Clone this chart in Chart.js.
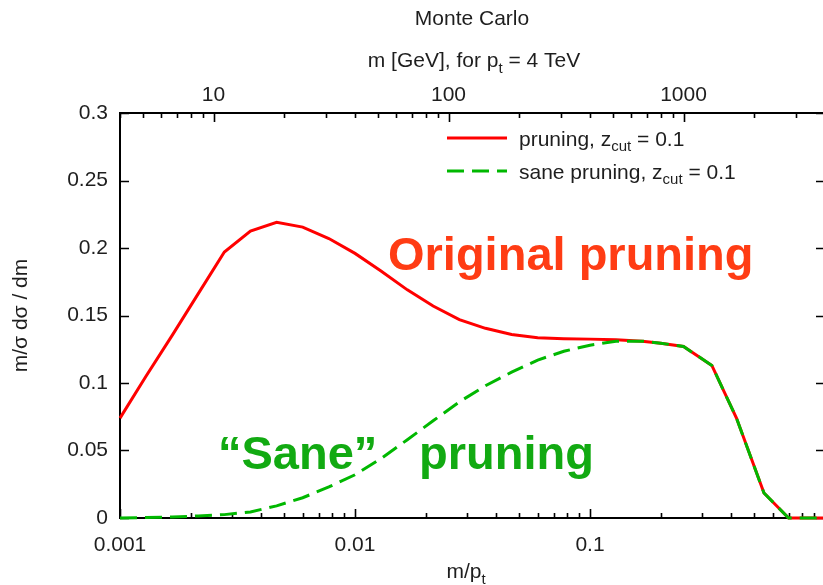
<!DOCTYPE html>
<html><head><meta charset="utf-8">
<script src="https://cdn.jsdelivr.net/npm/chart.js@4.4.1/dist/chart.umd.min.js"></script>
<style>
html,body{margin:0;padding:0;background:#fff;overflow:hidden;}
#wrap{position:relative;width:826px;height:585px;}
canvas{display:block;}
</style></head><body>
<div id="wrap"><canvas id="c" width="826" height="585"></canvas></div>
<script>
// ---- data ----
const mOverPt = [0.001, 0.00129, 0.00167, 0.00215, 0.00278, 0.00359, 0.00464, 0.00599, 0.00774, 0.01,
                 0.0129, 0.0167, 0.0215, 0.0278, 0.0359, 0.0464, 0.0599, 0.0774, 0.1,
                 0.129, 0.167, 0.2, 0.25, 0.33, 0.42, 0.55, 0.7, 0.8, 0.9, 1.0];
const pruning = [0.074, 0.105, 0.1355, 0.166, 0.197, 0.2125, 0.219, 0.2155, 0.207, 0.196,
                 0.183, 0.169, 0.157, 0.147, 0.1405, 0.136, 0.1335, 0.1328, 0.1325,
                 0.132, 0.131, 0.1295, 0.127, 0.113, 0.074, 0.0185, 0, 0, 0, 0];
const sanePruning = [0, 0.0003, 0.0008, 0.0015, 0.0025, 0.0045, 0.009, 0.015, 0.023, 0.032,
                 0.044, 0.058, 0.072, 0.086, 0.098, 0.108, 0.117, 0.1235, 0.128,
                 0.131, 0.131, 0.1295, 0.127, 0.113, 0.074, 0.0185, 0, 0, 0, 0];
const bottomTickValues = [0.001, 0.01, 0.1];
const bottomTickLabels = ['0.001', '0.01', '0.1'];
const topTickValues = [10, 100, 1000];
const topTickLabels = ['10', '100', '1000'];
const yTickValues = [0, 0.05, 0.1, 0.15, 0.2, 0.25, 0.3];
const yTickLabels = ['0', '0.05', '0.1', '0.15', '0.2', '0.25', '0.3'];
const ptGeV = 4000;
const seriesNames = ['pruning', 'sane pruning'];

// ---- styling ----
const FONT = '"Liberation Sans", Arial, Helvetica, sans-serif';
const FS = 21;
const TXT = '#1e1e1e';
const RED = '#ff0000';
const GREEN = '#00b800';
const DASH = [17, 8];

function drawRich(ctx, parts, x, y, size, align, color, bold) {
  let total = 0;
  const items = parts.map(p => {
    const s = p.sub ? Math.round(size * 0.72) : size;
    ctx.font = (bold ? 'bold ' : '') + s + 'px ' + FONT;
    const w = ctx.measureText(p.t).width;
    total += w;
    return {t: p.t, s, w, sub: p.sub};
  });
  let cx = align === 'center' ? x - total / 2 : x;
  ctx.textAlign = 'left';
  ctx.textBaseline = 'alphabetic';
  ctx.fillStyle = color;
  items.forEach(it => {
    ctx.font = (bold ? 'bold ' : '') + it.s + 'px ' + FONT;
    ctx.fillText(it.t, cx, it.sub ? y + size * 0.28 : y);
    cx += it.w;
  });
}

const framePlugin = {
  id: 'frameTicks',
  beforeDatasetsDraw(chart) {
    const {ctx, chartArea: a, scales} = chart;
    ctx.save();
    ctx.strokeStyle = '#000';
    ctx.lineWidth = 2;
    ctx.strokeRect(a.left, a.top, a.right - a.left, a.bottom - a.top);
    ctx.lineWidth = 1.6;
    ctx.beginPath();
    // bottom ticks (inward)
    const xs = scales.x;
    for (let e = -3; e <= 0; e++) {
      for (let k = 1; k <= 9; k++) {
        const v = k * Math.pow(10, e);
        if (v > 1.0001) break;
        const px = Math.round(xs.getPixelForValue(v)) + 0.5;
        const len = k === 1 ? 9 : 5;
        ctx.moveTo(px, a.bottom); ctx.lineTo(px, a.bottom - len);
      }
    }
    // top ticks (inward)
    const xt = scales.x2;
    for (let e = 0; e <= 3; e++) {
      for (let k = 1; k <= 9; k++) {
        const m = k * Math.pow(10, e);
        if (m < ptGeV * 0.001 || m > ptGeV) continue;
        const px = Math.round(xt.getPixelForValue(m)) + 0.5;
        const len = k === 1 ? 9 : 5;
        ctx.moveTo(px, a.top); ctx.lineTo(px, a.top + len);
      }
    }
    // y ticks left and right (inward)
    const ys = scales.y;
    yTickValues.forEach(v => {
      const py = Math.round(ys.getPixelForValue(v)) + 0.5;
      ctx.moveTo(a.left, py); ctx.lineTo(a.left + 9, py);
      ctx.moveTo(a.right, py); ctx.lineTo(a.right - 9, py);
    });
    ctx.stroke();
    ctx.restore();
  },
  afterDraw(chart) {
    const {ctx} = chart;
    ctx.save();
    // titles
    drawRich(ctx, [{t: 'Monte Carlo'}], 472, 24.5, FS, 'center', TXT);
    drawRich(ctx, [{t: 'm [GeV], for p'}, {t: 't', sub: true}, {t: ' = 4 TeV'}], 474, 67, FS, 'center', TXT);
    drawRich(ctx, [{t: 'm/p'}, {t: 't', sub: true}], 466, 578, FS, 'center', TXT);
    // legend
    ctx.lineWidth = 3;
    ctx.strokeStyle = RED;
    ctx.beginPath(); ctx.moveTo(447, 138); ctx.lineTo(507, 138); ctx.stroke();
    ctx.strokeStyle = GREEN;
    ctx.setLineDash(DASH);
    ctx.beginPath(); ctx.moveTo(447, 171); ctx.lineTo(507, 171); ctx.stroke();
    ctx.setLineDash([]);
    drawRich(ctx, [{t: seriesNames[0] + ', z'}, {t: 'cut', sub: true}, {t: ' = 0.1'}], 519, 145.5, FS, 'left', TXT);
    drawRich(ctx, [{t: seriesNames[1] + ', z'}, {t: 'cut', sub: true}, {t: ' = 0.1'}], 519, 178.5, FS, 'left', TXT);
    // annotations
    drawRich(ctx, [{t: 'Original pruning'}], 388, 270, 47, 'left', '#ff3c14', true);
    drawRich(ctx, [{t: '\u201CSane\u201D'}], 218, 469, 47, 'left', '#12aa12', true);
    drawRich(ctx, [{t: 'pruning'}], 419, 469, 47, 'left', '#12aa12', true);
    ctx.restore();
  }
};

const ctx = document.getElementById('c').getContext('2d');
new Chart(ctx, {
  type: 'line',
  data: {
    datasets: [
      {
        label: seriesNames[0],
        data: mOverPt.map((x, i) => ({x, y: pruning[i]})),
        borderColor: RED, backgroundColor: RED, borderWidth: 3,
        pointRadius: 0, tension: 0, clip: false, order: 1, fill: false
      },
      {
        label: seriesNames[1],
        data: mOverPt.map((x, i) => ({x, y: sanePruning[i]})),
        borderColor: GREEN, backgroundColor: GREEN, borderWidth: 3, borderDash: DASH,
        pointRadius: 0, tension: 0, clip: false, order: 0, fill: false
      }
    ]
  },
  options: {
    responsive: false,
    animation: false,
    devicePixelRatio: 1,
    layout: {padding: {left: 0, right: 1, top: 0, bottom: 0}},
    plugins: {legend: {display: false}, title: {display: false}, tooltip: {enabled: false}},
    scales: {
      x: {
        type: 'logarithmic', position: 'bottom', min: 0.001, max: 1,
        grid: {display: false, drawTicks: false}, border: {display: false},
        afterBuildTicks: s => { s.ticks = bottomTickValues.map(v => ({value: v, major: true})); },
        afterFit: s => { s.height = 67; },
        ticks: {
          autoSkip: false, maxRotation: 0, padding: 15, color: TXT,
          font: {family: FONT, size: FS},
          callback: (v) => { const i = bottomTickValues.indexOf(v); return i >= 0 ? bottomTickLabels[i] : ''; }
        }
      },
      x2: {
        type: 'logarithmic', position: 'top', min: 0.001 * ptGeV, max: 1 * ptGeV,
        grid: {display: false, drawTicks: false}, border: {display: false},
        afterBuildTicks: s => { s.ticks = topTickValues.map(v => ({value: v, major: true})); },
        afterFit: s => { s.height = 113; },
        ticks: {
          autoSkip: false, maxRotation: 0, padding: 5, color: TXT,
          font: {family: FONT, size: FS},
          callback: (v) => { const i = topTickValues.indexOf(v); return i >= 0 ? topTickLabels[i] : ''; }
        }
      },
      y: {
        type: 'linear', position: 'left', min: 0, max: 0.3,
        grid: {display: false, drawTicks: false}, border: {display: false},
        afterBuildTicks: s => { s.ticks = yTickValues.map(v => ({value: v})); },
        afterFit: s => { s.width = 120; },
        ticks: {
          padding: 12, color: TXT, font: {family: FONT, size: FS},
          callback: (v) => { const i = yTickValues.findIndex(t => Math.abs(t - v) < 1e-9); return i >= 0 ? yTickLabels[i] : ''; }
        },
        title: {
          display: true, text: 'm/\u03C3 d\u03C3 / dm', color: TXT,
          font: {family: FONT, size: FS}, padding: {top: 9, bottom: 0}
        }
      }
    }
  },
  plugins: [framePlugin]
});
</script>
</body></html>
